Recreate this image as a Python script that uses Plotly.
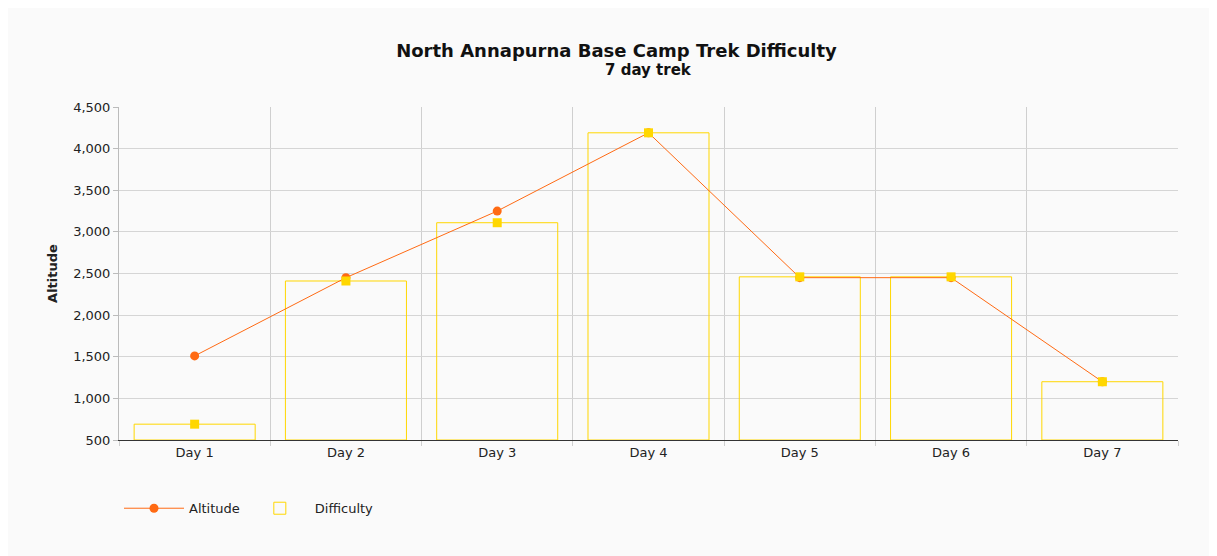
import plotly.graph_objects as go

days = ["Day 1", "Day 2", "Day 3", "Day 4", "Day 5", "Day 6", "Day 7"]
altitude = [1510, 2450, 3250, 4190, 2450, 2450, 1200]
difficulty = [690, 2410, 3110, 4190, 2460, 2460, 1200]

base = 500
line_color = "#ff6a13"
bar_color = "#ffd700"

fig = go.Figure()

fig.add_trace(go.Bar(
    x=days, y=[d - base for d in difficulty], base=base,
    name="Difficulty", width=0.8,
    marker=dict(color="rgba(0,0,0,0)", line=dict(color=bar_color, width=1)),
    customdata=difficulty, hovertemplate="%{x}: %{customdata}<extra></extra>",
))
fig.add_trace(go.Scatter(
    x=days, y=altitude, name="Altitude", mode="lines+markers",
    line=dict(color=line_color, width=1),
    marker=dict(symbol="circle", size=9, color=line_color),
))
fig.add_trace(go.Scatter(
    x=days, y=difficulty, mode="markers", showlegend=False, hoverinfo="skip",
    marker=dict(symbol="square", size=9, color=bar_color),
))

fig.update_layout(
    width=1217, height=556,
    paper_bgcolor="#fafafa", plot_bgcolor="#fafafa",
    font=dict(family="DejaVu Sans", size=12, color="#222"),
    title=dict(
        text="<b>North Annapurna Base Camp Trek Difficulty</b>",
        x=0.5, y=0.924, xanchor="center", yanchor="middle",
        font=dict(size=18, color="#111"),
    ),
    annotations=[dict(
        text="<b>7 day trek</b>", xref="paper", yref="paper",
        x=0.5, y=1.11, xanchor="center", yanchor="middle",
        showarrow=False, font=dict(size=15, color="#111"),
    )],
    margin=dict(l=111, r=47, t=99, b=124),
    showlegend=True,
    legend=dict(orientation="h", x=0, y=-0.16, xanchor="left", yanchor="top",
                traceorder="reversed", itemwidth=60, font=dict(size=13)),
    bargap=0.2,
)
fig.update_xaxes(
    tickson="boundaries", showgrid=True, gridcolor="#cfcfcf",
    showline=True, linecolor="#333", ticks="outside", ticklen=5, tickcolor="#cfcfcf",
    tickfont=dict(size=13),
)
fig.update_yaxes(
    range=[500, 4500], dtick=500, tickformat=",", showgrid=True, gridcolor="#d5d5d5",
    showline=True, linecolor="#bbb", ticks="outside", ticklen=5, tickcolor="#bbb",
    zeroline=False, tickfont=dict(size=13),
    title=dict(text="<b>Altitude</b>", font=dict(size=13), standoff=12),
)

fig.write_html("out.html")
